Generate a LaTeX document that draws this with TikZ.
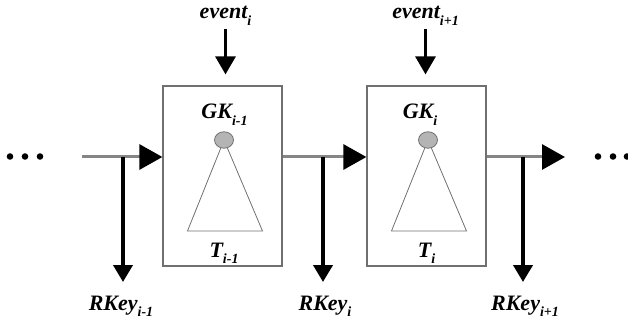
\documentclass[tikz,border=0pt]{standalone}
\usepackage{fontspec}
\setmainfont{Liberation Serif}
\usetikzlibrary{arrows.meta,shapes.geometric}
\definecolor{boxgray}{HTML}{707070}
\definecolor{linegray}{HTML}{858585}
\definecolor{rootgray}{HTML}{B4B4B4}
\newcommand{\lowsub}[1]{\raisebox{-0.28em}{\fontsize{14}{14}\selectfont #1}}

\begin{document}
\begin{tikzpicture}[x=1pt,y=-1pt,
  lbl/.style={font=\fontsize{22}{25}\selectfont\bfseries\itshape,inner sep=0pt,anchor=base},
  stage/.style={draw=boxgray,line width=1.2pt,minimum width=119pt,minimum height=180pt,inner sep=0pt},
  flow/.style={draw=linegray,line width=3pt,-{Triangle[length=23pt,width=25pt,color=black]}},
  keyout/.style={line width=4pt,-{Triangle[length=17pt,width=19pt]}},
  evin/.style={line width=3pt,-{Triangle[length=18pt,width=20pt]}},
  tree/.style={draw=boxgray,line width=0.8pt},
  root/.style={ellipse,draw=boxgray,line width=0.8pt,fill=rootgray,minimum width=19pt,minimum height=16.5pt,inner sep=0pt}]
  \useasboundingbox (0,0) rectangle (628,323);

  % the two stages
  \node[stage] (box1) at (222.5,176) {};
  \node[stage] (box2) at (426.5,176) {};

  % trees inside the stages
  \foreach \k/\x in {1/224,2/428} {
    \coordinate (apex\k) at (\x,140);
    \draw[tree] (apex\k) -- (\x-36.5,231) -- (\x+38.5,231) -- cycle;
    \node[root] (root\k) at (apex\k) {};
  }
  \node[lbl] (gk1) at (224.5,119) {GK\lowsub{i-1}};
  \node[lbl] (gk2) at (420,119) {GK\lowsub{i}};
  \node[lbl] (t1) at (224,257) {T\lowsub{i-1}};
  \node[lbl] (t2) at (426.5,257) {T\lowsub{i}};

  % events coming in from the top
  \node[lbl] (ev1) at (225.5,19) {event\lowsub{i}};
  \node[lbl] (ev2) at (425.5,19) {event\lowsub{i+1}};
  \draw[evin,shorten <=4pt,shorten >=11pt] (ev1.south) -- (ev1.south |- box1.north);
  \draw[evin,shorten <=4pt,shorten >=11pt] (ev2.south) -- (ev2.south |- box2.north);

  % main line
  \coordinate (in) at (82,157);
  \coordinate (out) at (565,157);
  \draw[flow] (in) -- (in -| box1.west);
  \draw[flow] (in -| box1.east) -- (in -| box2.west);
  \draw[flow] (in -| box2.east) -- (out);

  % keys going out at the bottom
  \foreach \k/\x in {1/123,2/323,3/523} {
    \coordinate (tap\k) at (\x,157);
    \coordinate (tip\k) at (\x,282);
    \draw[keyout] (tap\k) -- (tip\k);
  }
  \node[lbl] (rk1) at (121,310) {RKey\lowsub{i-1}};
  \node[lbl] (rk2) at (325,310) {RKey\lowsub{i}};
  \node[lbl] (rk3) at (525,310) {RKey\lowsub{i+1}};

  % dots
  \foreach \x in {10,25,40,598,613,627}
    \fill (\x,156.5) circle (3.3pt);
\end{tikzpicture}
\end{document}
